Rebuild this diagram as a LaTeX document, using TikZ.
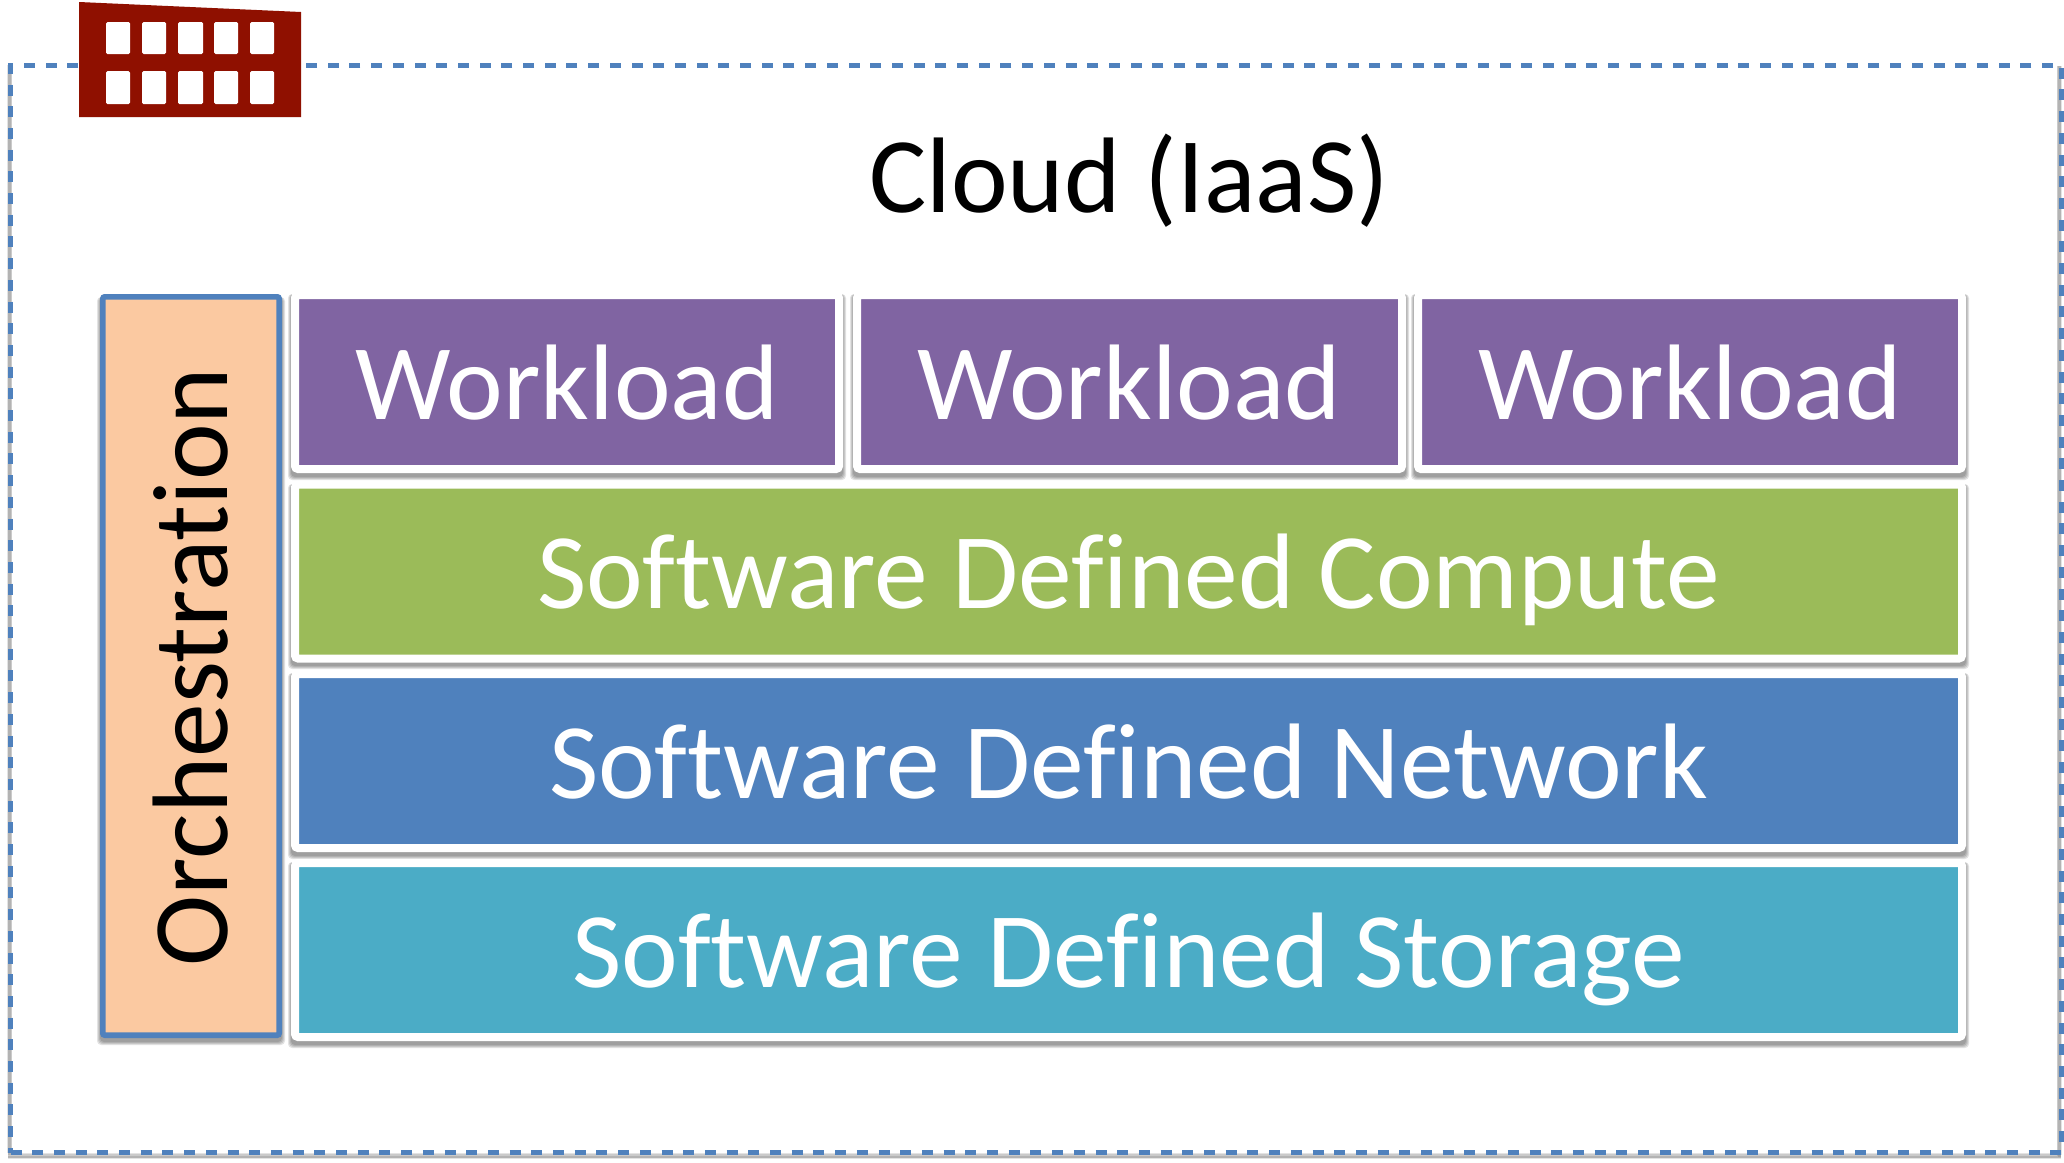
\documentclass[tikz,border=0pt]{standalone}
\usepackage{fontspec}
\setmainfont[Ligatures=NoCommon]{Carlito}
\definecolor{cblue}{HTML}{4F81BD}
\definecolor{cpurple}{HTML}{8064A2}
\definecolor{cgreen}{HTML}{9BBB59}
\definecolor{cteal}{HTML}{4BACC6}
\definecolor{corange}{HTML}{FBC9A1}
\definecolor{cbrick}{HTML}{8F1000}
\newcommand{\softshadow}[4]{%
  \foreach \g in {0,1,2,3}{%
    \fill[black,opacity=.11,rounded corners=4pt]
      ({#1-3+\g},{#2+3}) rectangle ({#3+3-\g},{#4+7-\g});}}
\tikzset{
  x=1pt,y=-1pt,
  labelfont/.style={font=\fontsize{107.4}{112}\selectfont},
  layer/.style={draw=white,line width=8pt,rounded corners=3pt,outer sep=0pt,inner sep=0pt,
    anchor=north west,text=white,labelfont,text height=86pt,text depth=12pt,align=center},
  orch/.style={draw=cblue,fill=corange,line width=5.7pt,rounded corners=2pt,outer sep=0pt,inner sep=0pt},
  frame/.style={draw=cblue,line width=5.6pt,dash pattern=on 11pt off 10.7pt,outer sep=0pt,inner sep=0pt,anchor=north west},
  win/.style={fill=white,rounded corners=1.5pt}
}
\begin{document}
\begin{tikzpicture}
\useasboundingbox[fill=white] (0,0) rectangle (2064,1162);
% frame shadow
\foreach \g in {0,1,2}{%
  \pgfmathsetmacro{\wd}{5-\g}
  \draw[black,opacity=.11,line width=\wd pt] (9.5,{65}) -- (9.5,{1153+\g});
  \draw[black,opacity=.11,line width=\wd pt] (8,{1155+\g}) -- (2061,{1155+\g});
  \draw[black,opacity=.11,line width=\wd pt] (2059,66) -- (2059,{1155+\g});
}
\node[frame,minimum width=2051pt,minimum height=1087pt] (cloudframe) at (10.5,65.5) {};
% icon
\fill[cbrick] (79,2) -- (301,12) -- (301,117) -- (79,117) -- cycle;
\foreach \xa/\xb in {106/130,142/166,178/203,214/238,250/274}{
  \fill[win] (\xa,22) rectangle (\xb,54);
  \fill[win] (\xa,71) rectangle (\xb,104);
}
\node[labelfont,text height=86pt,text depth=22pt,inner sep=0pt] (cloud) at (1129.5,180) {Cloud (IaaS)};
% shadows
\softshadow{100}{294}{282}{1038}
\softshadow{291}{291}{843}{473}
\softshadow{853}{291}{1406}{473}
\softshadow{1414}{291}{1966}{473}
\softshadow{291}{481}{1966}{662}
\softshadow{291}{670}{1966}{852}
\softshadow{291}{859}{1966}{1041}
% orchestration
\node[orch,minimum width=176.3pt,minimum height=738.3pt,anchor=north west] (orchbox) at (102.85,296.85) {};
\node[rotate=90,labelfont,text height=84pt,text depth=12pt,inner sep=0pt] (orchlabel) at (191,667) {Orchestration};
% layers
\node[layer,fill=cpurple,minimum width=544pt,minimum height=174pt] (w1) at (295,295) {Workload};
\node[layer,fill=cpurple,minimum width=545pt,minimum height=174pt] (w2) at (857,295) {Workload};
\node[layer,fill=cpurple,minimum width=544pt,minimum height=174pt] (w3) at (1418,295) {Workload};
\node[layer,fill=cgreen,minimum width=1667pt,minimum height=174pt] (compute) at (295,484.5) {Software Defined Compute};
\node[layer,fill=cblue,minimum width=1667pt,minimum height=174pt] (network) at (295,674) {Software Defined Network};
\node[layer,fill=cteal,minimum width=1667pt,minimum height=174pt] (storage) at (295,863) {Software Defined Storage};
\end{tikzpicture}
\end{document}
